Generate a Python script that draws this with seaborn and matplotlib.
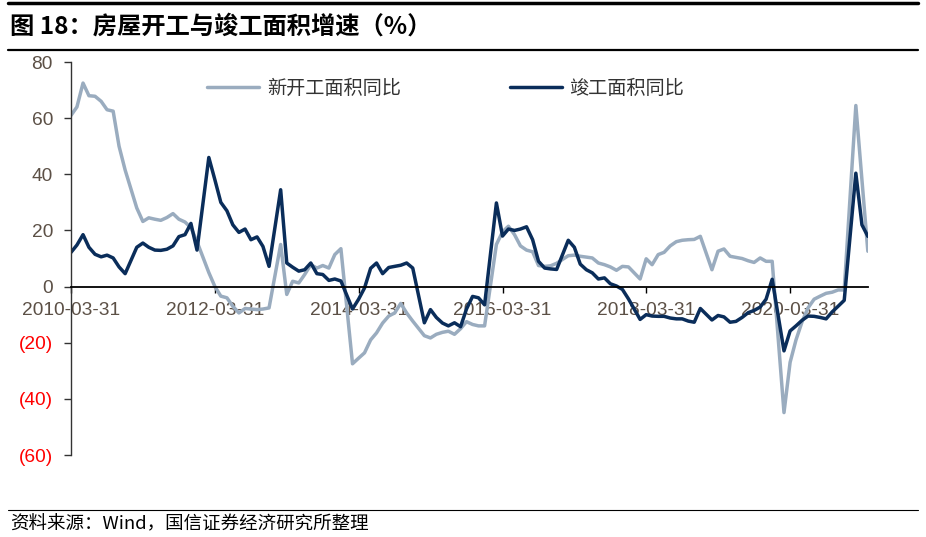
import pandas as pd
import matplotlib.pyplot as plt
from matplotlib.lines import Line2D
import seaborn as sns

# Style
sns.set_style('white')
plt.rcParams['font.family'] = ['Liberation Sans', 'Noto Sans CJK SC', 'DejaVu Sans']
cjk = ['Noto Sans CJK SC', 'DejaVu Sans']

light_col = '#9AACBF'   # 新开工
dark_col = '#0A2D5A'    # 竣工
tick_col = '#5c5046'

# Data (monthly cumulative YoY, %, no January prints)
new_start = [
    61, 64, 72.5, 68, 67.8, 66, 63, 62.5, 50, 41.5,                  # 2010 Mar-Dec
    28, 23.2, 24.5, 24, 23.6, 24.6, 26, 24, 23, 21, 16,              # 2011
    5, 0, -3.4, -4, -7, -9.4, -7.8, -8, -8.2, -8, -7.6,              # 2012
    15, -2.8, 1.9, 1.3, 4.3, 7.8, 6.6, 7.5, 6.6, 11.4, 13.5,         # 2013
    -27.5, -25.5, -23.6, -19, -16.5, -13, -10.5, -9.4, -6, -9.4, -12.3,  # 2014
    -17.5, -18.3, -17, -16.3, -15.9, -17, -15, -12.5, -13.5, -14, -14,   # 2015
    15, 19.5, 21.5, 18.5, 14.5, 13, 12.4, 7.5, 7.2, 7.4, 8.3,        # 2016
    11, 11.2, 10.8, 10.5, 10.2, 8.4, 7.8, 7, 5.8, 7.2, 7,            # 2017
    2.7, 9.9, 7.8, 11.4, 12.2, 14.5, 16, 16.5, 16.7, 16.8, 17.9,     # 2018
    6, 12.6, 13.4, 10.8, 10.4, 10, 9.2, 8.6, 10.2, 9, 9,             # 2019
    -44.9, -27, -19, -12.5, -7.6, -4.5, -3.4, -2.4, -2, -1.2, -1.2,  # 2020
    64.5, 38, 12.6,                                                  # 2021 Feb-Apr
]
completed = [
    12.2, 14.8, 18.5, 14, 11.5, 10.6, 11.2, 10.2, 7, 4.6,            # 2010 Mar-Dec
    14, 15.5, 14, 13, 12.9, 13.3, 14.5, 17.8, 18.5, 22.5, 13,        # 2011
    46, 38, 30, 27, 22, 19.3, 20.5, 16.7, 17.7, 14.3, 7.2,           # 2012
    34.5, 8.4, 6.9, 5.5, 6, 8.4, 4.6, 4.3, 2.2, 2.7, 2,              # 2013
    -8, -4.5, -0.5, 6.5, 8.4, 4.6, 6.8, 7.2, 7.6, 8.4, 6.6,          # 2014
    -12.9, -8.2, -11, -13, -14, -12.9, -14.3, -8, -3.5, -4, -6.5,    # 2015
    29.8, 18, 20.5, 20, 20.5, 21.3, 16.7, 9, 6.6, 6.3, 6.1,          # 2016
    16.5, 14, 8, 6, 4.9, 2.7, 3.1, 1, 0.2, -1, -4.4,                 # 2017
    -11.7, -10, -10.5, -10.6, -10.6, -11.2, -11.5, -11.5, -12.3, -12.7, -7.8,  # 2018
    -11.9, -10.3, -10.8, -12.7, -12.4, -11, -9.3, -8.5, -7.3, -4.5, 2.6,       # 2019
    -22.9, -15.8, -14, -12, -10.5, -10.6, -11, -11.5, -9, -7, -4.9,  # 2020
    40.4, 22, 17.9,                                                  # 2021 Feb-Apr
]
series_names = ['新开工面积同比', '竣工面积同比']

x_ticks = ['2010-03-31', '2012-03-31', '2014-03-31', '2016-03-31', '2018-03-31', '2020-03-31']
y_ticks = [-60, -40, -20, 0, 20, 40, 60, 80]
y_tick_labels = ['(60)', '(40)', '(20)', '0', '20', '40', '60', '80']

months = pd.date_range('2010-03-31', '2021-04-30', freq='ME')
dates = months[months.month != 1]

df = pd.DataFrame({'date': dates, series_names[0]: new_start, series_names[1]: completed})
long_df = df.melt(id_vars='date', var_name='series', value_name='value')

fig = plt.figure(figsize=(9.26, 5.37), dpi=100)
ax = fig.add_axes([0.0767, 0.1527, 0.8605, 0.7318])

sns.lineplot(data=long_df, x='date', y='value', hue='series', hue_order=series_names,
             palette=[light_col, dark_col], linewidth=2.5, legend=False, ax=ax,
             solid_joinstyle='round', solid_capstyle='round')

ax.set_xlim(pd.Timestamp('2010-03-31'), pd.Timestamp('2021-04-30'))
ax.set_ylim(-60, 80)
ax.set_xlabel('')
ax.set_ylabel('')

# axes: left spine + zero line as x axis
for s in ['top', 'right']:
    ax.spines[s].set_visible(False)
ax.spines['bottom'].set_position(('data', 0))
ax.spines['bottom'].set_color('black')
ax.spines['bottom'].set_linewidth(1.3)
ax.spines['left'].set_color('#333333')
ax.spines['left'].set_linewidth(1.0)

ax.set_xticks(pd.to_datetime(x_ticks))
ax.set_xticklabels(x_ticks)
ax.set_yticks(y_ticks)
ax.set_yticklabels(y_tick_labels)
ax.tick_params(axis='x', direction='out', length=4, width=1, color='black', pad=7,
               labelsize=13.8, labelcolor=tick_col, bottom=True)
ax.tick_params(axis='y', direction='out', length=5, width=1, color='#333333', pad=8,
               labelsize=13.8, labelcolor=tick_col, left=True)
for lab in ax.get_yticklabels():
    if lab.get_text().startswith('('):
        lab.set_color('red')

# legend
handles = [Line2D([0], [0], color=light_col, lw=2.5),
           Line2D([0], [0], color=dark_col, lw=2.5)]
leg = fig.legend(handles, series_names, loc='center left', bbox_to_anchor=(0.224, 0.836),
                 ncol=2, frameon=False, handlelength=2.7, handletextpad=0.4,
                 columnspacing=5.7, borderpad=0, borderaxespad=0,
                 prop={'family': cjk, 'size': 13.8})
for t in leg.get_texts():
    t.set_color('#333333')

# title, rules and source note
fig.add_artist(Line2D([0.009, 0.991], [0.9944, 0.9944], color='black', lw=2.5,
                      transform=fig.transFigure))
fig.text(0.011, 0.95, '图 18：房屋开工与竣工面积增速（%）', fontsize=17.5, fontweight='bold',
         family=cjk, va='center', ha='left', color='black')
fig.add_artist(Line2D([0.009, 0.991], [0.907, 0.907], color='black', lw=1.6,
                      transform=fig.transFigure))
fig.add_artist(Line2D([0.009, 0.991], [0.0503, 0.0503], color='black', lw=0.8,
                      transform=fig.transFigure))
fig.text(0.011, 0.024, '资料来源：Wind，国信证券经济研究所整理', fontsize=13.3,
         family=cjk, va='center', ha='left', color='black')

fig.savefig('out.png', dpi=100)
